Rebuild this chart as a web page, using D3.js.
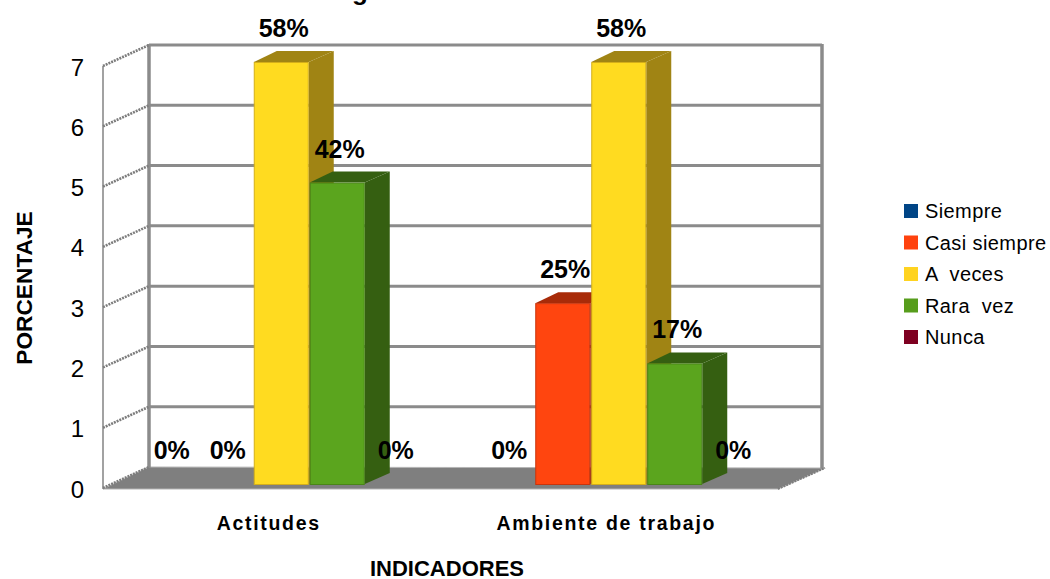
<!DOCTYPE html>
<html>
<head>
<meta charset="utf-8">
<script src="https://cdn.jsdelivr.net/npm/d3@7"></script>
<style>
  html, body { margin: 0; padding: 0; background: #fff; }
  svg { display: block; font-family: "Liberation Sans", Arial, sans-serif; }
</style>
</head>
<body>
<svg id="chart" width="1050" height="579"></svg>
<script>
// Survey answers per indicator, out of twelve respondents.
const categories = ["Actitudes", "Ambiente de trabajo"];
const seriesNames = ["Siempre", "Casi siempre", "A  veces", "Rara  vez", "Nunca"];
const actitudes = [0, 0, 7, 5, 0];
const ambiente = [0, 3, 7, 2, 0];
const respondents = 12;
const yTicks = [0, 1, 2, 3, 4, 5, 6, 7];
const frontColors = ["#004586", "#ff450f", "#ffdb20", "#5ba51e", "#7e0021"];
const sideColors = ["#002a50", "#a82b09", "#a08414", "#355f11", "#4c0014"];
const edgeColors = ["#003060", "#c9340b", "#d4ae1a", "#4a8518", "#5c0018"];
const swatchColors = ["#004586", "#ff420e", "#ffd320", "#579d1c", "#7e0021"];
const categoryValues = [actitudes, ambiente];

const svg = d3.select("#chart");

// Oblique projection: the floor and left wall recede up and to the right.
const depthX = 46, depthY = -21;
const barDepthX = 25, barDepthY = -11;
const barLift = -4;
const gridColor = "#8b8b8b";

const y = d3.scaleLinear().domain([0, 7]).range([488, 66]);
const xCategory = d3.scaleBand().domain(categories).range([103, 778]);
const xSeries = d3.scaleBand().domain(seriesNames).range([0, 280]);
const barOffset = 10;
const groupStart = c => xCategory(c) + xCategory.bandwidth() / 2 - xSeries.range()[1] / 2 + barOffset;

const wallLeft = xCategory.range()[0] + depthX;
const wallRight = 822;

// Floor
svg.append("polygon")
  .attr("points", [
    [wallLeft, y(0) + depthY],
    [wallRight + 3, y(0) + depthY + 1],
    [xCategory.range()[1], y(0) + 1],
    [xCategory.range()[0], y(0) + 1]
  ].map(p => p.join(",")).join(" "))
  .attr("fill", "#7f7f7f")
  .attr("stroke", "#b5b5b5")
  .attr("stroke-width", 1);

// Back wall grid
svg.append("g").selectAll("line").data(yTicks.slice(1)).join("line")
  .attr("x1", wallLeft).attr("x2", wallRight)
  .attr("y1", d => y(d) + depthY).attr("y2", d => y(d) + depthY)
  .attr("stroke", gridColor).attr("stroke-width", 3);

// Back wall verticals
[wallLeft, wallRight].forEach(x => {
  svg.append("line")
    .attr("x1", x).attr("x2", x)
    .attr("y1", y(7) + depthY - 1).attr("y2", y(0) + depthY + 1)
    .attr("stroke", gridColor).attr("stroke-width", 3.5);
});

// Left wall: front edge and receding tick lines
svg.append("line")
  .attr("x1", xCategory.range()[0]).attr("x2", xCategory.range()[0])
  .attr("y1", y(7)).attr("y2", y(0) + 1)
  .attr("stroke", gridColor).attr("stroke-width", 1.6);

svg.append("g").selectAll("line").data(yTicks).join("line")
  .attr("x1", xCategory.range()[0]).attr("x2", wallLeft)
  .attr("y1", d => y(d)).attr("y2", d => y(d) + depthY)
  .attr("stroke", "#7d7d7d").attr("stroke-width", 2.6)
  .attr("stroke-dasharray", "2 1");

// Receding line at the right end of the floor
svg.append("line")
  .attr("x1", xCategory.range()[1]).attr("x2", wallRight + 3)
  .attr("y1", y(0) + 1).attr("y2", y(0) + depthY + 1)
  .attr("stroke", "#7d7d7d").attr("stroke-width", 2)
  .attr("stroke-dasharray", "2 1");

// Bars: side, top, then front, painted left to right
const bars = categories.flatMap((c, ci) =>
  seriesNames.map((s, si) => ({ c, s, si, v: categoryValues[ci][si] })));

const barX = d => groupStart(d.c) + xSeries(d.s);
const barW = xSeries.bandwidth();

const barGroups = svg.append("g").selectAll("g")
  .data(bars.filter(d => d.v > 0)).join("g");

barGroups.append("polygon")
  .attr("fill", d => sideColors[d.si])
  .attr("points", d => {
    const x1 = barX(d) + barW - 1, top = y(d.v) + barLift, base = y(0) + barLift;
    return [[x1, top], [x1 + barDepthX, top + barDepthY],
            [x1 + barDepthX, base + barDepthY], [x1, base]].join(" ");
  });

barGroups.append("polygon")
  .attr("fill", d => sideColors[d.si])
  .attr("points", d => {
    const x0 = barX(d), x1 = x0 + barW - 1, top = y(d.v) + barLift;
    return [[x0, top], [x0 + barDepthX - 2, top + barDepthY],
            [x1 + barDepthX, top + barDepthY], [x1, top]].join(" ");
  });

barGroups.append("rect")
  .attr("x", d => barX(d) + 0.5)
  .attr("y", d => y(d.v) + barLift + 0.5)
  .attr("width", barW - 2)
  .attr("height", d => y(0) - y(d.v))
  .attr("fill", d => frontColors[d.si])
  .attr("stroke", d => edgeColors[d.si])
  .attr("stroke-width", 1);

// Percentage labels above each bar position
svg.append("g").selectAll("text").data(bars).join("text")
  .attr("x", d => barX(d) + barW / 2 + 2)
  .attr("y", d => y(d.v) + barLift - 25)
  .attr("text-anchor", "middle")
  .attr("font-size", 25)
  .attr("font-weight", "bold")
  .attr("fill", "#000")
  .text(d => Math.round(d.v / respondents * 100) + "%");

// Value axis
const yAxis = svg.append("g")
  .attr("transform", `translate(${xCategory.range()[0] - 19},0)`)
  .call(d3.axisLeft(y).tickValues(yTicks).tickSize(0).tickPadding(0).tickFormat(d3.format("d")));
yAxis.select(".domain").remove();
yAxis.selectAll("text")
  .attr("font-family", "'Liberation Sans', Arial, sans-serif")
  .attr("font-size", 24)
  .attr("fill", "#000")
  .attr("dy", "0.38em");

// Category axis
const xAxis = svg.append("g")
  .attr("transform", "translate(-3,516)")
  .call(d3.axisBottom(xCategory).tickSize(0).tickPadding(0));
xAxis.select(".domain").remove();
xAxis.selectAll("text")
  .attr("font-family", "'Liberation Sans', Arial, sans-serif")
  .attr("font-size", 19.5)
  .attr("font-weight", "bold")
  .attr("letter-spacing", 1.7)
  .attr("fill", "#000");

// Axis titles
svg.append("text")
  .attr("x", 447).attr("y", 576)
  .attr("text-anchor", "middle")
  .attr("font-size", 22).attr("font-weight", "bold")
  .text("INDICADORES");

svg.append("text")
  .attr("transform", "translate(32,288) rotate(-90)")
  .attr("text-anchor", "middle")
  .attr("font-size", 22.7).attr("font-weight", "bold")
  .text("PORCENTAJE");

// Chart title runs off the top edge, only its descender stays in view
svg.append("text")
  .attr("x", 360).attr("y", 0)
  .attr("text-anchor", "middle")
  .attr("font-size", 26).attr("font-weight", "bold")
  .text("g");

// Legend
const legendY = d3.scalePoint().domain(seriesNames).range([211, 337]);
const legend = svg.append("g").selectAll("g").data(seriesNames).join("g")
  .attr("transform", d => `translate(904,${legendY(d)})`);
legend.append("rect")
  .attr("x", 0).attr("y", -7).attr("width", 14).attr("height", 14)
  .attr("fill", (d, i) => swatchColors[i]);
legend.append("text")
  .attr("x", 21).attr("y", 7)
  .attr("font-size", 20)
  .attr("letter-spacing", 0.4)
  .style("white-space", "pre")
  .text(d => d);
</script>
</body>
</html>
